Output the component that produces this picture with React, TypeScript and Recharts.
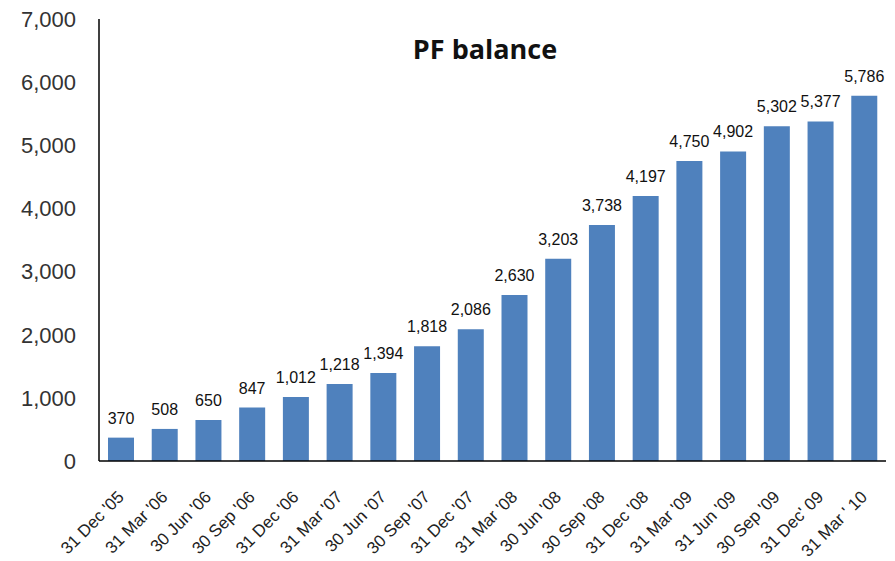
import React from 'react';
import { BarChart, Bar, XAxis, YAxis, LabelList } from 'recharts';

const quarters = [
  "31 Dec '05", "31 Mar '06", "30 Jun '06", "30 Sep '06", "31 Dec '06", "31 Mar '07",
  "30 Jun '07", "30 Sep '07", "31 Dec '07", "31 Mar '08", "30 Jun '08", "30 Sep '08",
  "31 Dec '08", "31 Mar '09", "31 Jun '09", "30 Sep '09", "31 Dec' 09", "31 Mar ' 10",
];
const balances = [
  370, 508, 650, 847, 1012, 1218, 1394, 1818, 2086, 2630, 3203, 3738,
  4197, 4750, 4902, 5302, 5377, 5786,
];
const yTicks = [0, 1000, 2000, 3000, 4000, 5000, 6000, 7000];

const data = quarters.map((name, i) => ({ name, balance: balances[i] }));

const fmt = (v: number) => v.toLocaleString('en-US');

const AngledTick = ({ x, y, payload }: any) => (
  <text
    x={x + 4}
    y={y + 29}
    transform={`rotate(-45, ${x + 4}, ${y + 29})`}
    textAnchor="end"
    fontSize={17}
    fontFamily="'Liberation Sans', Arial, sans-serif"
    fill="#222"
  >
    {payload.value}
  </text>
);

const App: React.FC = () => {
  return (
    <div style={{ position: 'absolute', left: 0, top: 0, width: 895, height: 561, background: '#fff' }}>
      <BarChart
        width={895}
        height={561}
        data={data}
        margin={{ top: 19, right: 9, left: 0, bottom: 0 }}
        barSize={26}
      >
        <XAxis
          dataKey="name"
          interval={0}
          height={100}
          tickLine={false}
          axisLine={{ stroke: '#000', strokeWidth: 1.5 }}
          tick={<AngledTick />}
        />
        <YAxis
          width={99}
          domain={[0, 7000]}
          ticks={yTicks}
          tickFormatter={fmt}
          tickLine={false}
          tickMargin={17}
          axisLine={{ stroke: '#000', strokeWidth: 1.5 }}
          tick={{ fontSize: 22, fill: '#333', fontFamily: "'Liberation Sans', Arial, sans-serif" }}
        />
        <Bar dataKey="balance" fill="#4F81BD" isAnimationActive={false}>
          <LabelList
            dataKey="balance"
            position="top"
            offset={14}
            formatter={(v: any) => fmt(Number(v))}
            style={{ fontSize: 16, fill: '#111', fontFamily: "'Liberation Sans', Arial, sans-serif" }}
          />
        </Bar>
        <text
          x={485}
          y={59}
          textAnchor="middle"
          fontSize={27}
          fontWeight="bold"
          fontFamily="'Open Sans', sans-serif"
          fill="#111"
        >
          PF balance
        </text>
      </BarChart>
    </div>
  );
};

export default App;
